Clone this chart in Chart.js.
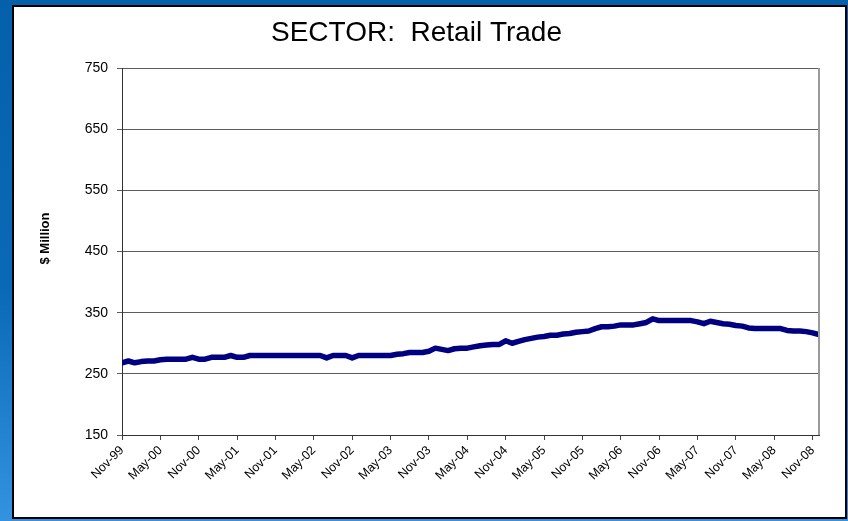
<!DOCTYPE html>
<html>
<head>
<meta charset="utf-8">
<title>SECTOR: Retail Trade</title>
<script src="https://cdn.jsdelivr.net/npm/chart.js@4.4.1/dist/chart.umd.min.js"></script>
<style>
  html, body { margin: 0; padding: 0; width: 848px; height: 521px; overflow: hidden; }
  body { background: linear-gradient(to bottom, #0560ab 0%, #0a69b7 55%, #3393e0 100%); }
  #frame {
    position: absolute; left: 12px; top: 5px;
    width: 831px; height: 510px;
    border: 2px solid #000; background: #fff;
  }
</style>
</head>
<body>
<div id="frame"><canvas id="chartRetail"></canvas></div>
<script>
// monthly figures, $ million, Nov-99 .. Dec-08
var retailSales = [
  268, 271, 268, 270, 271, 271, 273, 274, 274, 274, 274, 277,
  274, 274, 277, 277, 277, 280, 277, 277, 280, 280, 280, 280,
  280, 280, 280, 280, 280, 280, 280, 280, 276, 280, 280, 280,
  276, 280, 280, 280, 280, 280, 280, 282, 283, 285, 285, 285,
  287, 292, 290, 288, 291, 292, 292, 294, 296, 297, 298, 298,
  304, 300, 303, 306, 308, 310, 311, 313, 313, 315, 316, 318,
  319, 320, 324, 327, 327, 328, 330, 330, 330, 332, 334, 340,
  337, 337, 337, 337, 337, 337, 335, 332, 336, 334, 332, 331,
  329, 328, 325, 324, 324, 324, 324, 324, 321, 320, 320, 319,
  317, 314
];

// one label every six months
var monthTicks = [
  'Nov-99', 'May-00', 'Nov-00', 'May-01', 'Nov-01', 'May-02', 'Nov-02',
  'May-03', 'Nov-03', 'May-04', 'Nov-04', 'May-05', 'Nov-05', 'May-06',
  'Nov-06', 'May-07', 'Nov-07', 'May-08', 'Nov-08'
];
var tickStep = 6;

var valueTicks = [150, 250, 350, 450, 550, 650, 750];
var unitLabel = '$ Million';

var points = retailSales.map(function (v, i) { return { x: i, y: v }; });

var FONT = 'Liberation Sans, Arial, sans-serif';

// grey edge on the right of the plot area + the unit label left of the axis
var plotExtras = {
  id: 'plotExtras',
  afterDraw: function (chart) {
    var a = chart.chartArea, ctx = chart.ctx;
    ctx.save();
    ctx.strokeStyle = '#9a9a9a';
    ctx.lineWidth = 2;
    ctx.beginPath();
    ctx.moveTo(a.right, a.top);
    ctx.lineTo(a.right, a.bottom);
    ctx.stroke();

    ctx.translate(a.left - 77, (a.top + a.bottom) / 2 - 13);
    ctx.rotate(-Math.PI / 2);
    ctx.fillStyle = '#000';
    ctx.font = 'bold 13px ' + FONT;
    ctx.textAlign = 'center';
    ctx.textBaseline = 'middle';
    ctx.fillText(unitLabel, 0, 0);
    ctx.restore();
  }
};

var ctx = document.getElementById('chartRetail').getContext('2d');
var chart = new Chart(ctx, {
  type: 'line',
  data: {
    datasets: [{
      data: points,
      borderColor: '#000080',
      borderWidth: 5.5,
      pointRadius: 0,
      tension: 0,
      borderCapStyle: 'round',
      borderJoinStyle: 'round'
    }]
  },
  options: {
    responsive: true,
    maintainAspectRatio: false,
    animation: false,
    layout: { padding: { left: 0, right: 26, top: 0, bottom: 0 } },
    plugins: {
      legend: { display: false },
      tooltip: { enabled: false },
      title: {
        display: true,
        text: 'SECTOR:  Retail Trade',
        color: '#000',
        font: { family: FONT, size: 28, weight: 'normal' },
        padding: { top: 9.2, bottom: 18.2 }
      }
    },
    scales: {
      x: {
        type: 'linear',
        min: 0,
        max: retailSales.length - 1,
        afterBuildTicks: function (scale) {
          scale.ticks = monthTicks.map(function (t, k) { return { value: k * tickStep }; });
        },
        afterFit: function (scale) {
          scale.height = 82;
          scale.paddingLeft = 0;
          scale.paddingRight = 0;
        },
        ticks: {
          autoSkip: false,
          maxRotation: 45,
          minRotation: 45,
          padding: 3,
          color: '#000',
          font: { family: FONT, size: 12.5 },
          callback: function (value) { return monthTicks[value / tickStep]; }
        },
        grid: {
          drawOnChartArea: false,
          drawTicks: true,
          tickLength: 5,
          color: '#444'
        },
        border: { color: '#333', width: 1 }
      },
      y: {
        min: 150,
        max: 750,
        afterBuildTicks: function (scale) {
          scale.ticks = valueTicks.map(function (v) { return { value: v }; });
        },
        afterFit: function (scale) {
          scale.width = 108;
          scale.paddingTop = 0;
          scale.paddingBottom = 0;
        },
        ticks: {
          padding: 9,
          color: '#000',
          font: { family: FONT, size: 14 }
        },
        grid: {
          color: '#5c5c5c',
          lineWidth: 1,
          tickLength: 5
        },
        border: { color: '#333', width: 1 }
      }
    }
  },
  plugins: [plotExtras]
});
</script>
</body>
</html>
